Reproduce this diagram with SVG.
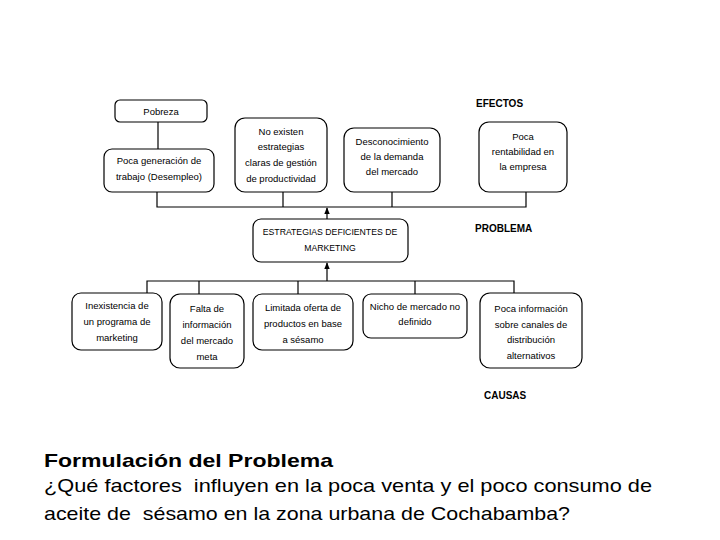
<svg xmlns="http://www.w3.org/2000/svg" width="720" height="540" viewBox="0 0 720 540">
<defs>
<style>
.box{fill:#fff;stroke:#000;stroke-width:1.2}
.ln{fill:none;stroke:#000;stroke-width:1.2}
.t{font-family:"Liberation Sans",Arial,sans-serif;font-size:9.5px;fill:#000;text-anchor:middle}
.s{font-size:8.7px}
.h{font-family:"Liberation Sans",Arial,sans-serif;font-size:10px;font-weight:bold;fill:#000}
.big{font-family:"Liberation Sans",Arial,sans-serif;font-size:19px;fill:#000}
</style>
<marker id="ar" viewBox="0 0 10 10" refX="9" refY="5" markerWidth="6" markerHeight="6" orient="auto">
<path d="M0,1 L10,5 L0,9 Z" fill="#000"/>
</marker>
</defs>
<rect width="720" height="540" fill="#fff"/>
<g id="connectors">
<line class="ln" x1="158" y1="122" x2="158" y2="149"/>
<polyline class="ln" points="157,192 157,207 526,207 526,192"/>
<line class="ln" x1="283" y1="190" x2="283" y2="207"/>
<line class="ln" x1="392" y1="192" x2="392" y2="207"/>
<line class="ln" x1="327" y1="219" x2="327" y2="208" marker-end="url(#ar)"/>
<line class="ln" x1="327" y1="281" x2="327" y2="263" marker-end="url(#ar)"/>
<polyline class="ln" points="147,293 147,281 514,281 514,293"/>
<line class="ln" x1="199" y1="281" x2="199" y2="294"/>
<line class="ln" x1="298" y1="281" x2="298" y2="294"/>
<line class="ln" x1="415" y1="281" x2="415" y2="294"/>
</g>
<g id="pobreza"><rect class="box" x="115" y="100" width="92" height="22" rx="5"/><text class="t" x="161" y="115">Pobreza</text></g>
<g id="poca-generacion"><rect class="box" x="104" y="149" width="110" height="43" rx="8"/><text class="t" x="159" y="164">Poca generación de</text><text class="t" x="159" y="180">trabajo (Desempleo)</text></g>
<g id="no-existen"><rect class="box" x="235" y="118" width="92" height="74" rx="10"/><text class="t" x="281" y="135">No existen</text><text class="t" x="281" y="150">estrategias</text><text class="t" x="281" y="166">claras de gestión</text><text class="t" x="281" y="182">de productividad</text></g>
<g id="desconocimiento"><rect class="box" x="344" y="128" width="96" height="64" rx="10"/><text class="t" x="392" y="145">Desconocimiento</text><text class="t" x="392" y="160">de la demanda</text><text class="t" x="392" y="175">del mercado</text></g>
<g id="poca-rentabilidad"><rect class="box" x="479" y="122" width="88" height="70" rx="10"/><text class="t" x="523" y="140">Poca</text><text class="t" x="523" y="155">rentabilidad en</text><text class="t" x="523" y="170">la empresa</text></g>
<text class="h" x="476" y="107">EFECTOS</text>
<g id="problema"><rect class="box" x="253" y="219" width="155" height="43" rx="8"/><text class="t s" x="330" y="235">ESTRATEGIAS DEFICIENTES DE</text><text class="t s" x="330" y="251">MARKETING</text></g>
<text class="h" x="475" y="232">PROBLEMA</text>
<g id="inexistencia"><rect class="box" x="72" y="293" width="90" height="57" rx="9"/><text class="t" x="117" y="309">Inexistencia de</text><text class="t" x="117" y="325">un programa de</text><text class="t" x="117" y="341">marketing</text></g>
<g id="falta"><rect class="box" x="170" y="294" width="74" height="74" rx="10"/><text class="t" x="207" y="312">Falta de</text><text class="t" x="207" y="328">información</text><text class="t" x="207" y="344">del mercado</text><text class="t" x="207" y="360">meta</text></g>
<g id="limitada"><rect class="box" x="253" y="294" width="100" height="56" rx="9"/><text class="t" x="303" y="311">Limitada oferta de</text><text class="t" x="303" y="327">productos en base</text><text class="t" x="303" y="343">a sésamo</text></g>
<g id="nicho"><rect class="box" x="363" y="294" width="104" height="44" rx="8"/><text class="t" x="415" y="310">Nicho de mercado no</text><text class="t" x="415" y="325">definido</text></g>
<g id="poca-info"><rect class="box" x="480" y="293" width="102" height="75" rx="10"/><text class="t" x="531" y="312">Poca información</text><text class="t" x="531" y="328">sobre canales de</text><text class="t" x="531" y="343">distribución</text><text class="t" x="531" y="359">alternativos</text></g>
<text class="h" x="484" y="399">CAUSAS</text>
<text class="big" x="44" y="467" font-weight="bold" textLength="289" lengthAdjust="spacingAndGlyphs">Formulación del Problema</text>
<text class="big" x="44" y="492" xml:space="preserve" textLength="608" lengthAdjust="spacingAndGlyphs">¿Qué factores  influyen en la poca venta y el poco consumo de</text>
<text class="big" x="44" y="520" xml:space="preserve" textLength="526" lengthAdjust="spacingAndGlyphs">aceite de  sésamo en la zona urbana de Cochabamba?</text>
</svg>
